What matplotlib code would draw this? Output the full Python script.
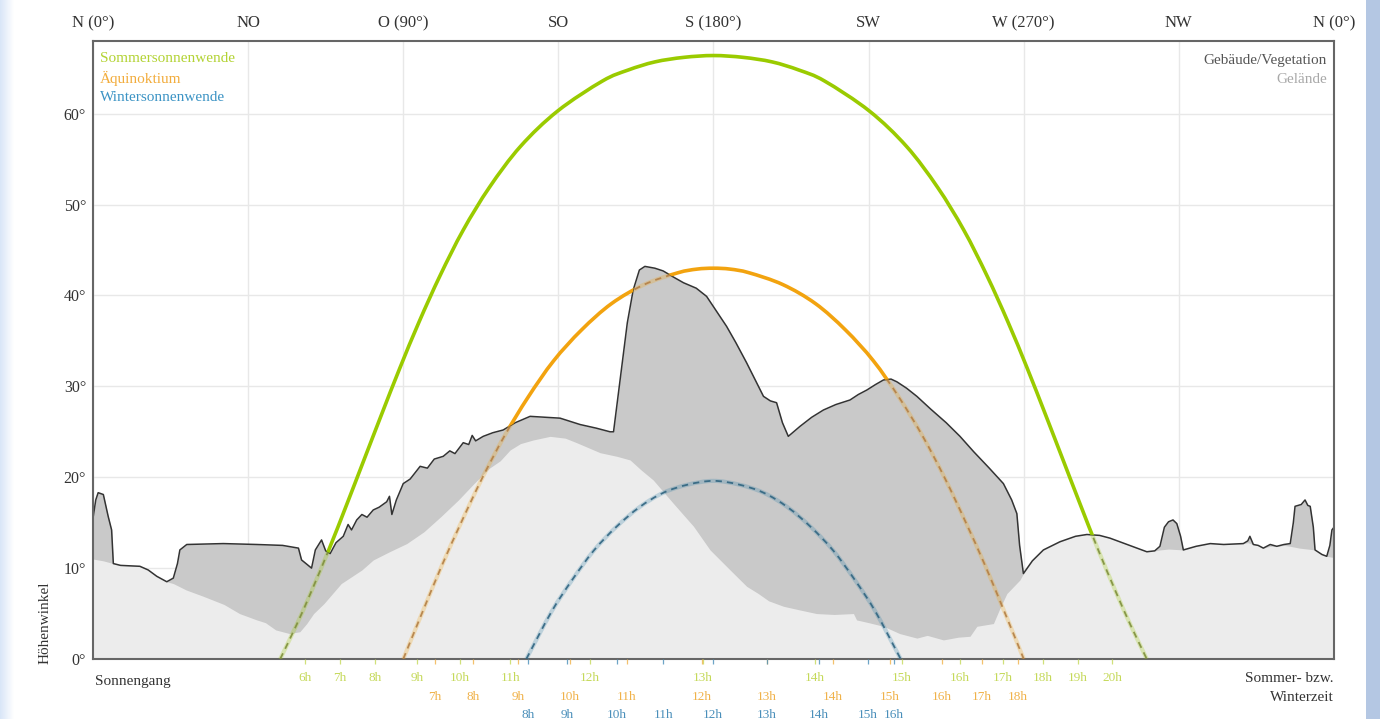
import numpy as np
import matplotlib
matplotlib.use("Agg")
import matplotlib.pyplot as plt
from matplotlib.patches import Polygon, Rectangle, PathPatch
from matplotlib.path import Path

plt.rcParams['font.family'] = ['Liberation Serif', 'DejaVu Serif']

# ---- axes labelling -------------------------------------------------------
compass_az = [0, 45, 90, 135, 180, 225, 270, 315, 360]
compass_labels = ["N (0°)", "NO", "O (90°)", "SO", "S (180°)", "SW",
                  "W (270°)", "NW", "N (0°)"]
elev_ticks = [0, 10, 20, 30, 40, 50, 60]
elev_labels = ["0°", "10°", "20°", "30°", "40°", "50°", "60°"]

# ---- sun paths (azimuth °, elevation °) ------------------------------------
summer_az = [54.3, 59.1, 63.3, 68.5, 73.5, 78.6, 83.7, 89.0, 94.6, 100.7,
             107.4, 115.0, 124.0, 134.8, 147.8, 155.2, 163.0, 171.4, 180.0,
             188.6, 197.0, 204.8, 212.2, 225.2, 236.0, 245.0, 252.6, 259.3,
             265.4, 271.0, 276.3, 281.4, 286.5, 291.5, 296.7, 300.9, 305.7]
summer_el = [0.0, 3.8, 7.4, 12.1, 16.9, 21.9, 26.9, 32.0, 37.1, 42.2,
             47.2, 51.9, 56.4, 60.3, 63.6, 64.8, 65.7, 66.2, 66.4,
             66.2, 65.7, 64.8, 63.6, 60.3, 56.4, 51.9, 47.2, 42.2,
             37.1, 32.0, 26.9, 21.9, 16.9, 12.1, 7.4, 3.8, 0.0]

equinox_az = [90.0, 95.5, 101.1, 106.9, 112.9, 119.3, 126.2, 133.6, 141.7,
              150.4, 159.9, 169.7, 175.2, 180.0, 184.8, 190.3, 200.1, 209.6,
              218.3, 226.4, 233.8, 240.7, 247.1, 253.1, 258.9, 264.5, 270.0]
equinox_el = [0.0, 5.1, 10.2, 15.1, 19.9, 24.5, 28.8, 32.8, 36.2,
              39.1, 41.2, 42.5, 42.9, 43.0, 42.9, 42.5, 41.2, 39.1,
              36.2, 32.8, 28.8, 24.5, 19.9, 15.1, 10.2, 5.1, 0.0]

winter_az = [125.7, 133.0, 139.0, 145.2, 151.7, 158.5, 165.5, 172.7, 180.0,
             187.3, 194.5, 201.5, 208.3, 214.8, 221.0, 227.0, 234.3]
winter_el = [0.0, 5.2, 8.7, 11.9, 14.5, 16.7, 18.3, 19.2, 19.6,
             19.2, 18.3, 16.7, 14.5, 11.9, 8.7, 5.2, 0.0]

# ---- hour marks along each path (azimuth of the sun at full hours) ---------
summer_hours = ["6h", "7h", "8h", "9h", "10h", "11h", "12h", "13h", "14h",
                "15h", "16h", "17h", "18h", "19h", "20h"]
summer_hour_az = [61.5, 71.7, 81.8, 94.0, 106.5, 121.0, 144.2, 177.0, 209.5,
                  234.7, 251.5, 264.0, 275.6, 285.8, 295.6]
equinox_hours = ["7h", "8h", "9h", "10h", "11h", "12h", "13h", "14h", "15h",
                 "16h", "17h", "18h"]
equinox_hour_az = [99.2, 110.2, 123.3, 138.4, 154.9, 176.6, 195.5, 214.7,
                   231.2, 246.3, 257.9, 268.3]
winter_hours = ["8h", "9h", "10h", "11h", "12h", "13h", "14h", "15h", "16h"]
winter_hour_az = [126.2, 137.5, 152.0, 165.4, 179.9, 195.5, 210.6, 224.8, 232.4]

# ---- horizon: top of buildings / vegetation ---------------------------------
horizon_az = [0.0, 0.8, 1.5, 3.0, 4.4, 5.4, 5.9, 8.0, 13.6, 16.0, 18.5, 21.4,
              23.3, 24.5, 25.2, 27.2, 37.8, 47.5, 55.0, 59.6, 60.5, 63.4,
              64.5, 66.3, 67.5, 68.8, 70.5, 72.6, 74.0, 75.0, 76.5, 78.0,
              79.5, 81.3, 83.0, 85.2, 86.0, 86.7, 88.0, 90.0, 92.0, 94.9,
              97.0, 99.0, 101.6, 103.5, 105.0, 107.4, 109.0, 110.0, 111.0,
              113.2, 116.0, 119.0, 122.5, 126.8, 131.0, 135.5, 141.3, 146.0,
              150.0, 151.0, 153.0, 155.0, 156.7, 158.5, 160.1, 163.0, 165.4,
              168.5, 171.3, 175.0, 178.0, 181.0, 183.8, 186.5, 189.6, 192.0,
              194.5, 196.5, 198.3, 200.0, 201.7, 205.1, 208.5, 211.9, 215.5,
              219.6, 222.0, 224.5, 227.0, 229.3, 231.5, 233.2, 236.0, 239.0,
              243.0, 247.5, 251.5, 255.5, 260.0, 264.1, 266.5, 268.0, 268.8,
              269.9, 272.5, 275.7, 280.5, 285.0, 288.3, 292.0, 295.0, 300.0,
              305.7, 308.0, 309.5, 310.8, 312.0, 313.3, 314.4, 315.5, 316.3,
              320.0, 324.1, 328.0, 333.7, 335.0, 335.6, 336.6, 338.0, 339.5,
              341.5, 343.4, 345.5, 347.3, 348.2, 348.7, 350.5, 351.6, 352.4,
              353.1, 354.0, 354.5, 356.5, 357.9, 358.8, 359.4, 360.0]
horizon_el = [15.5, 17.5, 18.3, 18.1, 15.7, 14.2, 10.5, 10.3, 10.2, 9.8, 9.1, 8.5,
              8.9, 10.5, 12.0, 12.6, 12.7, 12.6, 12.5, 12.2, 10.9, 10.0,
              12.0, 13.1, 11.9, 11.6, 12.8, 13.5, 14.8, 14.2, 15.3, 15.9,
              15.6, 16.4, 16.7, 17.3, 17.9, 15.9, 17.5, 19.3, 19.8, 21.2,
              21.0, 22.0, 22.3, 22.9, 22.6, 23.8, 23.6, 24.6, 24.0,
              24.5, 24.9, 25.2, 26.0, 26.7, 26.6, 26.5, 25.8, 25.4,
              25.0, 25.0, 31.0, 37.0, 40.6, 42.8, 43.2, 43.0, 42.7,
              42.0, 41.4, 40.8, 39.9, 38.2, 36.6, 34.8, 32.6, 30.8,
              28.9, 28.4, 28.2, 26.0, 24.5, 25.6, 26.6, 27.4, 28.0,
              28.5, 29.1, 29.6, 30.2, 30.7, 30.8, 30.5, 29.8, 28.9,
              27.5, 26.0, 24.5, 22.8, 21.0, 19.3, 17.5, 16.0, 12.5,
              9.4, 10.8, 12.0, 12.9, 13.5, 13.7, 13.6, 13.3, 12.6,
              11.8, 11.9, 12.4, 14.5, 15.1, 15.3, 14.9, 13.5, 12.0,
              12.4, 12.7, 12.6, 12.7, 13.0, 13.5, 12.6, 12.5, 12.2,
              12.6, 12.4, 12.6, 12.7, 15.0, 16.8, 17.0, 17.5, 16.9,
              16.8, 14.5, 12.0, 11.5, 11.3, 12.5, 14.2, 14.5]

# ---- horizon: bare terrain ---------------------------------------------------
terrain_az = [0.0, 3.0, 5.9, 8.0, 13.6, 16.0, 18.5, 21.4, 23.3, 27.0, 32.0,
              38.0, 42.5, 47.5, 50.0, 53.0, 57.0, 60.0, 62.0, 64.0, 67.0,
              72.0, 78.0, 81.3, 86.0, 91.0, 96.0, 101.0, 106.0, 110.5, 115.0,
              118.1, 121.0, 124.0, 127.7, 132.6, 137.0, 140.3, 147.1, 152.0,
              155.8, 159.0, 162.5, 168.4, 174.2, 179.0, 184.8, 189.6, 193.0,
              196.0, 200.3, 205.0, 209.9, 215.0, 220.6, 221.5, 225.0, 229.3,
              234.0, 239.0, 242.0, 246.7, 251.0, 254.4, 256.4, 261.2, 263.0,
              265.1, 268.9, 269.9, 272.5, 275.7, 280.5, 285.0, 288.3, 292.0,
              295.0, 300.0, 305.7, 308.0, 309.5, 312.0, 316.3, 320.0, 324.1,
              328.0, 333.7, 335.0, 336.6, 338.0, 339.5, 341.5, 343.4, 345.5,
              347.3, 350.0, 354.5, 356.5, 357.9, 359.4, 360.0]
terrain_el = [11.0, 10.8, 10.5, 10.3, 10.2, 9.8, 9.1, 8.5, 8.3, 7.6, 6.9,
              6.0, 5.0, 4.3, 4.0, 3.2, 2.8, 3.0, 3.9, 5.0, 6.1,
              8.3, 9.8, 10.9, 11.8, 12.7, 14.0, 15.7, 17.5, 19.3, 21.0,
              21.8, 23.0, 23.7, 24.1, 24.5, 24.3, 23.8, 22.7, 22.3,
              21.9, 20.8, 19.7, 17.1, 14.6, 12.0, 9.8, 8.0, 7.2,
              6.4, 5.8, 5.4, 5.0, 4.9, 5.0, 4.3, 4.0, 3.6,
              2.8, 2.3, 2.6, 2.1, 2.4, 2.5, 3.6, 3.9, 5.5,
              7.2, 8.7, 9.4, 10.8, 12.0, 12.9, 13.5, 13.7, 13.6,
              13.3, 12.6, 11.8, 11.9, 12.0, 12.1, 12.0, 12.4, 12.7,
              12.6, 12.7, 12.8, 12.6, 12.5, 12.2, 12.4, 12.4, 12.5,
              12.4, 12.2, 12.0, 11.5, 11.3, 11.2, 11.2]

# ---- colours -----------------------------------------------------------------
GREEN, ORANGE, BLUE = "#9acb00", "#f2a30f", "#2f7fa6"
GREEN_TXT, ORANGE_TXT, BLUE_TXT = "#b3d334", "#f2ac3c", "#3b93c4"
HOUR_GREEN, HOUR_ORANGE, HOUR_BLUE = "#c5d95a", "#f0b24a", "#4a8fba"


def smooth_path(xs, ys):
    """Cubic Bezier path running through every given point (Catmull-Rom)."""
    p = np.column_stack([xs, ys]).astype(float)
    ext = np.vstack([p[0], p, p[-1]])
    verts = [p[0]]
    codes = [Path.MOVETO]
    for i in range(1, len(ext) - 2):
        c1 = ext[i] + (ext[i + 1] - ext[i - 1]) / 6.0
        c2 = ext[i + 1] - (ext[i + 2] - ext[i]) / 6.0
        verts += [c1, c2, ext[i + 1]]
        codes += [Path.CURVE4] * 3
    return Path(np.array(verts), codes)


W, H = 1380, 719
fig = plt.figure(figsize=(W / 100, H / 100), dpi=100)
fig.patch.set_facecolor("white")

# blue page frame at the left and right edges
grad = np.linspace(0, 1, 64)[None, :]
edge = fig.add_axes([0, 0, 14 / W, 1])
edge.imshow(np.dstack([0.85 + 0.15 * grad, 0.90 + 0.10 * grad,
                       0.97 + 0.03 * grad]), aspect="auto",
            extent=[0, 1, 0, 1])
edge.set_axis_off()
fig.patches.append(Rectangle((1366 / W, 0), 14 / W, 1, transform=fig.transFigure,
                             facecolor="#b4c7e3", edgecolor="none", zorder=0))

x0, x1, yb, yt = 93, 1334, 659, 41
ax = fig.add_axes([x0 / W, 1 - yb / H, (x1 - x0) / W, (yb - yt) / H])
ax.set_xlim(0, 360)
ax.set_ylim(0, 68)
ax.set_axisbelow(True)

# horizon fills
ax.fill_between(horizon_az, 0, horizon_el, color="#c9c9c9", lw=0, zorder=1)
ax.fill_between(terrain_az, 0, terrain_el, color="#ececec", lw=0, zorder=1.5)
ax.plot(horizon_az, horizon_el, color="#333333", lw=1.1, zorder=2)

# regions above / below the horizon line, used to split visible and hidden sun
sky = Polygon(list(zip(horizon_az, horizon_el)) + [(360, 90), (0, 90)],
              closed=True, transform=ax.transData)
ground = Polygon(list(zip(horizon_az, horizon_el)) + [(360, -10), (0, -10)],
                 closed=True, transform=ax.transData)

paths = [(summer_az, summer_el, GREEN, "#7f8f3c"),
         (equinox_az, equinox_el, ORANGE, "#b47f45"),
         (winter_az, winter_el, BLUE, "#2f6480")]
for az, el, col, dash_col in paths:
    sp = smooth_path(az, el)
    band = ax.add_patch(PathPatch(sp, fill=False, edgecolor=col, lw=3.0,
                                  alpha=0.25, zorder=3, capstyle="butt"))
    band.set_clip_path(ground)
    dashes = ax.add_patch(PathPatch(sp, fill=False, edgecolor=dash_col, lw=1.3,
                                    ls=(0, (3.5, 2.8)), alpha=0.9, zorder=3.2))
    dashes.set_clip_path(ground)
    solid = ax.add_patch(PathPatch(sp, fill=False, edgecolor=col, lw=2.6,
                                   zorder=4))
    solid.set_clip_path(sky)

# grid, ticks, spines
ax.grid(True, color="#e8e8e8", lw=1.0)
ax.xaxis.tick_top()
ax.set_xticks(compass_az)
ax.set_xticklabels(compass_labels, fontsize=12, color="#333333")
ax.set_yticks(elev_ticks)
ax.set_yticklabels(elev_labels, fontsize=11.5, color="#333333")
ax.tick_params(axis="both", length=0, pad=5)
ax.tick_params(axis="x", pad=7)
for s in ax.spines.values():
    s.set_color("#666666")
    s.set_linewidth(1.5)

# hour labels and small marks beneath the axis
xt = ax.get_xaxis_transform()
rows = [(summer_hours, summer_hour_az, HOUR_GREEN, -0.031),
        (equinox_hours, equinox_hour_az, HOUR_ORANGE, -0.062),
        (winter_hours, winter_hour_az, HOUR_BLUE, -0.090)]
for labels, azs, col, y in rows:
    ax.vlines(azs, -0.008, 0, transform=xt, colors=col, lw=0.9, alpha=0.8,
              clip_on=False, zorder=5)
    for lab, a in zip(labels, azs):
        ax.text(a, y, lab, transform=xt, ha="center", va="center",
                fontsize=9.5, color=col, clip_on=False)

ax.text(0.002, -0.036, "Sonnengang", transform=ax.transAxes, ha="left",
        va="center", fontsize=11, color="#333333")
ax.text(1.0, -0.032, "Sommer- bzw.", transform=ax.transAxes, ha="right",
        va="center", fontsize=11, color="#333333")
ax.text(1.0, -0.063, "Winterzeit", transform=ax.transAxes, ha="right",
        va="center", fontsize=11, color="#333333")

fig.text(45 / W, 1 - 664 / H, "Höhenwinkel", rotation=90, ha="center",
         va="bottom", fontsize=11, color="#333333")

# legend texts
for i, (txt, col) in enumerate([("Sommersonnenwende", GREEN_TXT),
                                ("Äquinoktium", ORANGE_TXT),
                                ("Wintersonnenwende", BLUE_TXT)]):
    ax.text(0.0056, 0.971 - 0.031 * i, txt, transform=ax.transAxes,
            ha="left", va="center", fontsize=11, color=col)
ax.text(0.9944, 0.969, "Gebäude/Vegetation", transform=ax.transAxes,
        ha="right", va="center", fontsize=11, color="#555555")
ax.text(0.9944, 0.938, "Gelände", transform=ax.transAxes,
        ha="right", va="center", fontsize=11, color="#a8a8a8")

fig.savefig("out.png", dpi=100)
